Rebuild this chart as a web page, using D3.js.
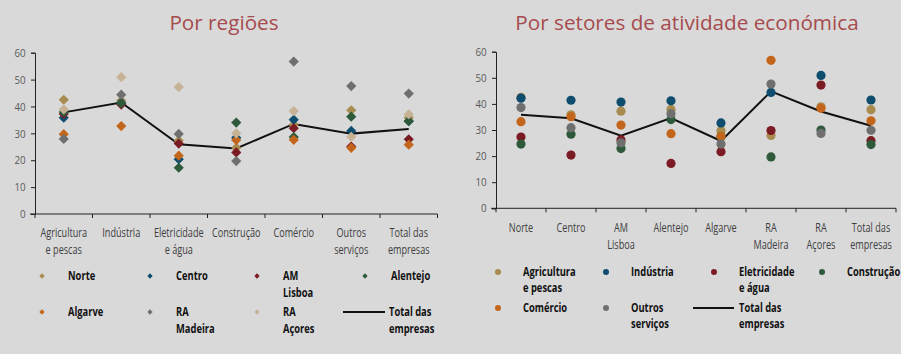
<!DOCTYPE html>
<html lang="pt">
<head>
<meta charset="utf-8">
<script src="https://cdn.jsdelivr.net/npm/d3@7"></script>
<style>
  body { margin: 0; background: #d9d9d9; }
  svg { display: block; font-family: "Open Sans", sans-serif; }
  .title { fill: #a64b4e; font-size: 20.7px; }
  .tick text { fill: #595959; font-size: 11.5px; }
  .cat { fill: #404040; font-size: 12px; }
  .leg { fill: #111; font-size: 12px; font-weight: bold; }
</style>
</head>
<body>
<script>
// sectors (x axis on the left chart, series on the right chart)
var sectors = ["Agricultura e pescas", "Indústria", "Eletricidade e água", "Construção", "Comércio", "Outros serviços", "Total das empresas"];
// regions (series on the left chart, x axis on the right chart)
var regions = ["Norte", "Centro", "AM Lisboa", "Alentejo", "Algarve", "RA Madeira", "RA Açores", "Total das empresas"];
var yTicks = [0, 10, 20, 30, 40, 50, 60];

// values per region, one value per sector (last = Total das empresas)
var norte    = [42.5, 42.2, 27.3, 24.6, 33.2, 38.6, 35.8];
var centro   = [35.8, 41.4, 20.4, 28.4, 35.1, 30.9, 34.5];
var amLisboa = [37.2, 40.7, 26.2, 22.9, 31.9, 25.1, 27.8];
var alentejo = [37.9, 41.2, 17.2, 34.0, 28.6, 36.2, 34.6];
var algarve  = [29.7, 32.7, 21.7, 27.5, 27.6, 24.6, 25.8];
var madeira  = [27.9, 44.4, 29.8, 19.7, 56.7, 47.6, 44.8];
var acores   = [38.9, 50.9, 47.2, 30.0, 38.3, 28.7, 37.1];
var total    = [37.8, 41.5, 25.9, 24.4, 33.5, 29.9, 31.6];

var regionColors = ["#a78b4f", "#0e4d6e", "#7b1c24", "#2e5a3b", "#c3661b", "#6f6f6f", "#c6b295"];
var sectorColors = ["#a78b4f", "#0e4d6e", "#7b1c24", "#2e5a3b", "#c3661b", "#6f6f6f"];

var byRegion = [norte, centro, amLisboa, alentejo, algarve, madeira, acores, total];

var W = 901, H = 354;
var svg = d3.select("body").append("svg").attr("width", W).attr("height", H);

// wraps label text into lines
function lines(label) {
  var map = {
    "Agricultura e pescas": ["Agricultura", "e pescas"],
    "Eletricidade e água": ["Eletricidade", "e água"],
    "Outros serviços": ["Outros", "serviços"],
    "Total das empresas": ["Total das", "empresas"],
    "AM Lisboa": ["AM", "Lisboa"],
    "RA Madeira": ["RA", "Madeira"],
    "RA Açores": ["RA", "Açores"]
  };
  return map[label] || [label];
}

// condensed look: the text is squeezed horizontally
function multiText(g, x, y, label, cls, anchor, lh, sx) {
  var t = g.append("g").attr("transform", "translate(" + x + "," + y + ") scale(" + sx + ",1)")
    .append("text").attr("class", cls).attr("text-anchor", anchor);
  lines(label).forEach(function(s, i) {
    t.append("tspan").attr("x", 0).attr("dy", i == 0 ? 0 : lh).text(s);
  });
}

function drawAxes(cats, x0, x1, y0, y1, labY) {
  var x = d3.scaleBand().domain(cats).range([x0, x1]);
  var y = d3.scaleLinear().domain([0, 60]).range([y0, y1]);

  svg.append("g").attr("transform", "translate(" + x0 + ",0)")
    .call(d3.axisLeft(y).tickValues(yTicks).tickSize(4).tickPadding(6))
    .call(function(g) {
      g.attr("font-family", null).attr("font-size", null);
      g.selectAll("line, path").attr("stroke", "#222");
      g.selectAll("text").attr("x", -11).attr("transform", "scale(0.85,1)");
    });

  var xa = svg.append("g").attr("transform", "translate(0," + y0 + ")");
  xa.append("line").attr("x1", x0 - 5).attr("x2", x1).attr("stroke", "#222");
  xa.selectAll(".bt").data(d3.range(cats.length + 1)).enter().append("line")
    .attr("x1", function(i) { return x0 + i * x.bandwidth(); })
    .attr("x2", function(i) { return x0 + i * x.bandwidth(); })
    .attr("y1", 0).attr("y2", 4).attr("stroke", "#222");

  cats.forEach(function(c) {
    multiText(svg, x(c) + x.bandwidth() / 2, labY, c, "cat", "middle", 17, 0.76);
  });
  return { x: x, y: y };
}

// ---------- left chart: by region ----------
svg.append("text").attr("class", "title").attr("x", 224).attr("y", 30)
  .attr("text-anchor", "middle").text("Por regiões");

var L = drawAxes(sectors, 35, 437.5, 214, 52.7, 237);
var cxL = function(i) { return L.x(sectors[i]) + L.x.bandwidth() / 2; };

svg.append("path").datum(total)
  .attr("fill", "none").attr("stroke", "#111").attr("stroke-width", 2)
  .attr("d", d3.line().x(function(d, i) { return cxL(i); }).y(function(d) { return L.y(d); }));

byRegion.slice(0, 7).forEach(function(vals, r) {
  svg.append("g").selectAll("path").data(vals).enter().append("path")
    .attr("d", d3.symbol().type(d3.symbolSquare).size(52))
    .attr("transform", function(d, i) { return "translate(" + cxL(i) + "," + L.y(d) + ") rotate(45)"; })
    .attr("fill", regionColors[r]);
});

// left legend
var legL = [
  { k: 0, x: 42, y: 280 }, { k: 1, x: 150, y: 280 }, { k: 2, x: 257, y: 280 }, { k: 3, x: 365, y: 280 },
  { k: 4, x: 42, y: 316 }, { k: 5, x: 150, y: 316 }, { k: 6, x: 257, y: 316 }
];
legL.forEach(function(l) {
  svg.append("path").attr("d", d3.symbol().type(d3.symbolSquare).size(14))
    .attr("transform", "translate(" + l.x + "," + (l.y - 4) + ") rotate(45)")
    .attr("fill", regionColors[l.k]);
  multiText(svg, l.x + 26, l.y, regions[l.k], "leg", "start", 17, 0.78);
});
svg.append("line").attr("x1", 343).attr("x2", 385).attr("y1", 312).attr("y2", 312)
  .attr("stroke", "#111").attr("stroke-width", 2);
multiText(svg, 389, 316, "Total das empresas", "leg", "start", 17, 0.78);

// ---------- right chart: by sector ----------
svg.append("text").attr("class", "title").attr("x", 687).attr("y", 30)
  .attr("text-anchor", "middle").text("Por setores de atividade económica");

var R = drawAxes(regions, 496, 896, 208.3, 51.7, 232);
var cxR = function(i) { return R.x(regions[i]) + R.x.bandwidth() / 2; };

var totalBySector = byRegion.map(function(v) { return v[6]; });
svg.append("path").datum(totalBySector)
  .attr("fill", "none").attr("stroke", "#111").attr("stroke-width", 2)
  .attr("d", d3.line().x(function(d, i) { return cxR(i); }).y(function(d) { return R.y(d); }));

sectorColors.forEach(function(col, s) {
  var vals = byRegion.map(function(v) { return v[s]; });
  svg.append("g").selectAll("circle").data(vals).enter().append("circle")
    .attr("cx", function(d, i) { return cxR(i); })
    .attr("cy", function(d) { return R.y(d); })
    .attr("r", 4.6).attr("fill", col);
});

// right legend
var legR = [
  { k: 0, x: 498, y: 276 }, { k: 1, x: 606, y: 276 }, { k: 2, x: 714, y: 276 }, { k: 3, x: 822, y: 276 },
  { k: 4, x: 498, y: 312 }, { k: 5, x: 606, y: 312 }
];
legR.forEach(function(l) {
  svg.append("circle").attr("cx", l.x).attr("cy", l.y - 4).attr("r", 3).attr("fill", sectorColors[l.k]);
  multiText(svg, l.x + 25, l.y, sectors[l.k], "leg", "start", 16, 0.78);
});
svg.append("line").attr("x1", 693).attr("x2", 734).attr("y1", 308).attr("y2", 308)
  .attr("stroke", "#111").attr("stroke-width", 2);
multiText(svg, 739, 312, "Total das empresas", "leg", "start", 16, 0.78);
</script>
</body>
</html>
